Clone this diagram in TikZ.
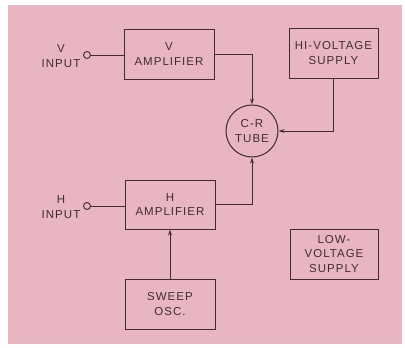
\documentclass[tikz,border=0pt]{standalone}
\usepackage{fontspec}
\newfontfamily\lettering[LetterSpace=9]{Liberation Sans}
\usetikzlibrary{arrows.meta}
\definecolor{sheet}{RGB}{233,181,193}
\definecolor{ink}{RGB}{62,46,52}
\begin{document}
\begin{tikzpicture}[
    x=1pt, y=-1pt,
    every node/.style={font=\lettering\fontsize{11.5}{14.5}\selectfont, text=ink, align=center},
    block/.style={draw=ink, line width=1pt, minimum width=90pt, minimum height=50pt, inner sep=0pt},
    jack/.style={draw=ink, line width=0.9pt, circle, minimum size=7pt, inner sep=0pt},
    feed/.style={draw=ink, line width=1pt, -{Stealth[length=6pt,width=3.8pt]}},
    wire/.style={draw=ink, line width=1pt}
]

% =========================================================
% Sheet
% =========================================================

\useasboundingbox (0,0) rectangle (405,348);
\fill[white] (0,0) rectangle (405,348);
\fill[sheet] (8,5) rectangle (402,344);

% =========================================================
% Blocks
% =========================================================

\node[block] (vamp) at (169,54) {V\\AMPLIFIER};
\node[block, minimum width=89pt] (hivolt) at (333.5,53) {HI-VOLTAGE\\SUPPLY};
\node[draw=ink, line width=1pt, circle, minimum size=52pt, inner sep=0pt] (tube) at (252,131) {C-R\\TUBE};
\node[block, minimum height=49pt] (hamp) at (170,204.5) {H\\AMPLIFIER};
\node[block, minimum width=88pt] (lowvolt) at (334,254) {LOW-\\VOLTAGE\\SUPPLY};
\node[block] (sweep) at (170,304) {SWEEP\\OSC.};

% =========================================================
% Inputs
% =========================================================

\node[jack] (vin) at (87,55) {};
\node (vlabel) at (61,56) {V\\INPUT};

\node[jack] (hin) at (87,206) {};
\node (hlabel) at (61,207) {H\\INPUT};

% =========================================================
% Connections
% =========================================================

\draw[wire] (vin) -- (vin -| vamp.west);
\draw[wire] (hin) -- (hin -| hamp.west);

\draw[feed] (vamp.east) -| (tube.north);
\draw[feed] (hivolt.south) |- (tube.east);
\draw[feed] (hamp.east) -| (tube.south);
\draw[feed] (sweep.north) -- (hamp.south);

\end{tikzpicture}
\end{document}
